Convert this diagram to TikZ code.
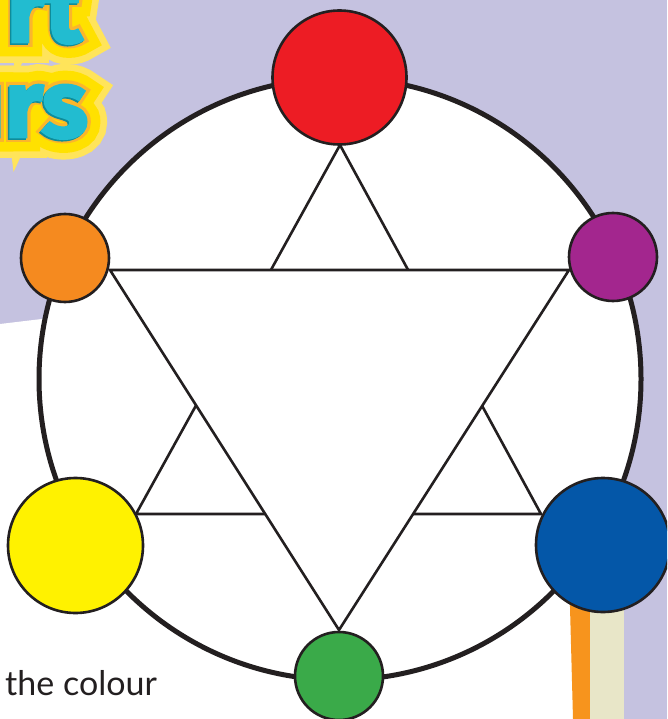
\documentclass[tikz,border=0pt]{standalone}
\usepackage{fontspec}
\newfontfamily\titlefont{Fira Sans}[BoldFeatures={FakeBold=3}]
\newfontfamily\titleglowfont{Fira Sans}[BoldFeatures={FakeBold=44}]
\newfontfamily\titleglowmid{Fira Sans}[BoldFeatures={FakeBold=30}]
\newfontfamily\titleglowin{Fira Sans}[BoldFeatures={FakeBold=10}]
\newfontfamily\bodyfont{Lato}
\definecolor{lavender}{HTML}{C5C2E0}
\definecolor{inkcol}{HTML}{231F20}
\definecolor{cred}{HTML}{ED1C24}
\definecolor{corange}{HTML}{F58A1F}
\definecolor{cpurple}{HTML}{A3268E}
\definecolor{cyellow}{HTML}{FFF200}
\definecolor{cblue}{HTML}{0457A8}
\definecolor{cgreen}{HTML}{3AAA49}
\definecolor{stripeorange}{HTML}{F7941D}
\definecolor{stripecream}{HTML}{E8E6C8}
\definecolor{glowyellow}{HTML}{FFE100}
\definecolor{glowpale}{HTML}{FFE45A}
\definecolor{glowamber}{HTML}{FBB62B}
\definecolor{titlecyan}{HTML}{22BCD0}
\definecolor{titleteal}{HTML}{0E8C9A}
\tikzset{
  dot/.style={circle, draw=inkcol, line width=2.6, inner sep=0pt},
  starline/.style={draw=inkcol, line width=2.6, line join=miter},
  titlebase/.style={inner sep=0pt, anchor=base east},
}
\begin{document}
\begin{tikzpicture}[x=1pt,y=-1pt]
\useasboundingbox (0,0) rectangle (667,719);
\clip (0,0) rectangle (667,719);
% background
\fill[lavender] (0,0) rectangle (667,719);
\fill[white] (0,324) -- (50,318) -- (340,300) -- (571,300) -- (574,719) -- (0,719) -- cycle;
\fill[stripeorange] (569,570) -- (590,570) -- (590,719) -- (573,719) -- cycle;
\fill[stripecream] (590,570) -- (624,570) -- (624,719) -- (590,719) -- cycle;
% title (cropped at the picture's edge)
\node[titlebase, text=glowpale, font=\titleglowfont\bfseries\fontsize{95}{95}\selectfont] (glowA) at (82,42) {rt};
\node[titlebase, text=glowpale, font=\titleglowfont\bfseries\fontsize{95}{95}\selectfont] (glowB) at (88,137) {urs};
\node[titlebase, text=glowyellow, font=\titleglowmid\bfseries\fontsize{95}{95}\selectfont] (midA) at (82,42) {rt};
\node[titlebase, text=glowyellow, font=\titleglowmid\bfseries\fontsize{95}{95}\selectfont] (midB) at (88,137) {urs};
\node[titlebase, text=glowamber, font=\titleglowin\bfseries\fontsize{95}{95}\selectfont] (inA) at (82,42) {rt};
\node[titlebase, text=glowamber, font=\titleglowin\bfseries\fontsize{95}{95}\selectfont] (inB) at (88,137) {urs};
\node[titlebase, text=titleteal, font=\titlefont\bfseries\fontsize{95}{95}\selectfont] (shadeA) at (80.5,43.5) {rt};
\node[titlebase, text=titleteal, font=\titlefont\bfseries\fontsize{95}{95}\selectfont] (shadeB) at (86.5,138.5) {urs};
\node[titlebase, text=titlecyan, font=\titlefont\bfseries\fontsize{95}{95}\selectfont] (titleA) at (82,42) {rt};
\node[titlebase, text=titlecyan, font=\titlefont\bfseries\fontsize{95}{95}\selectfont] (titleB) at (88,137) {urs};
% wheel
\node[circle, draw=inkcol, line width=5, fill=white, inner sep=0pt, minimum size=602] (wheel) at (340,379) {};
% star
\coordinate (apex) at (340,145);
\coordinate (ubl) at (136,514);
\coordinate (ubr) at (541,514);
\coordinate (dtl) at (110,270);
\coordinate (dtr) at (569,270);
\coordinate (dbot) at (339,630);
\coordinate (t1) at (intersection of apex--ubl and dtl--dtr);
\coordinate (t2) at (intersection of apex--ubr and dtl--dtr);
\coordinate (l1) at (intersection of apex--ubl and dtl--dbot);
\coordinate (l2) at (intersection of ubl--ubr and dtl--dbot);
\coordinate (r1) at (intersection of apex--ubr and dtr--dbot);
\coordinate (r2) at (intersection of ubl--ubr and dtr--dbot);
\draw[starline] (dtl) -- (dtr) -- (dbot) -- cycle;
\draw[starline] (t1) -- (apex) -- (t2);
\draw[starline] (l1) -- (ubl) -- (l2);
\draw[starline] (r1) -- (ubr) -- (r2);
% colour dots
\node[dot, fill=cred, minimum size=134] (red) at (339.5,77.5) {};
\node[dot, fill=corange, minimum size=88] (orange) at (65,258) {};
\node[dot, fill=cpurple, minimum size=88] (purple) at (613,257) {};
\node[dot, fill=cyellow, minimum size=135] (yellow) at (75.5,545.5) {};
\node[dot, fill=cblue, minimum size=134] (blue) at (603,545) {};
\node[dot, fill=cgreen, minimum size=88] (green) at (339,676) {};
% caption fragment
\node[inner sep=0pt, anchor=base west, text=inkcol, font=\bodyfont\fontsize{34}{34}\selectfont] (caption) at (5,695) {the colour};
\end{tikzpicture}
\end{document}
